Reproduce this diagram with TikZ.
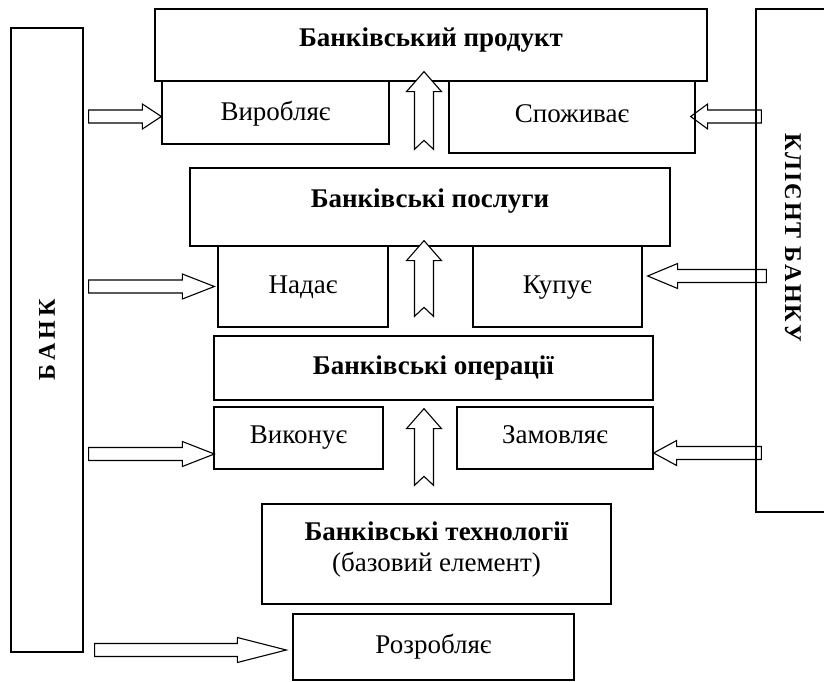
\documentclass[tikz,border=0pt]{standalone}
\usepackage{fontspec}
\setmainfont{Liberation Serif}
\usetikzlibrary{calc}
\tikzset{
  box/.style={draw=black, line width=1.3pt, inner sep=0pt, align=center,
    text height=20pt, text depth=#1, font=\fontsize{27}{31}\selectfont},
  box/.default=6.5pt,
  sidebox/.style={draw=black, line width=1.3pt, inner sep=0pt},
  sidelbl/.style={inner sep=0pt, font=\fontsize{24}{28}\selectfont\bfseries},
  blockarrow/.style={draw=black, line width=1.1pt},
}
% block arrows: tail, tip, head length
\newcommand{\rightblock}[3]{%
  \draw[blockarrow] let \p1=#1, \p2=#2 in
    (\x1,\y2+6.5pt) -- (\x2-#3,\y2+6.5pt) -- (\x2-#3,\y2+12.5pt) -- (\x2,\y2)
    -- (\x2-#3,\y2-12.5pt) -- (\x2-#3,\y2-6.5pt) -- (\x1,\y2-6.5pt) -- cycle;}
\newcommand{\leftblock}[3]{%
  \draw[blockarrow] let \p1=#1, \p2=#2 in
    (\x1,\y2+6.5pt) -- (\x2+#3,\y2+6.5pt) -- (\x2+#3,\y2+12.5pt) -- (\x2,\y2)
    -- (\x2+#3,\y2-12.5pt) -- (\x2+#3,\y2-6.5pt) -- (\x1,\y2-6.5pt) -- cycle;}
\newcommand{\upblock}[2]{%
  \filldraw[blockarrow, fill=white] let \p1=#1, \p2=#2 in
    (\x2,\y2) -- (\x2+17.5pt,\y2-20pt) -- (\x2+9.5pt,\y2-20pt) -- (\x2+9.5pt,\y1)
    -- (\x2,\y1+9pt) -- (\x2-9.5pt,\y1) -- (\x2-9.5pt,\y2-20pt) -- (\x2-17.5pt,\y2-20pt) -- cycle;}
\newcommand{\spaced}{\kern2pt}

\begin{document}
\begin{tikzpicture}[x=1pt, y=-1pt]
\useasboundingbox (0,0) rectangle (824,682);

\node[sidebox, minimum width=72, minimum height=624] (bank) at (47,340) {};
\node[sidelbl, rotate=90] (banklbl) at (bank.center) {Б\,А\,Н\,К};
\node[sidebox, minimum width=74, minimum height=503] (client) at (793,260.5) {};
\node[sidelbl, rotate=-90] (clientlbl) at (793,237.5)
  {К\spaced Л\spaced І\spaced Є\spaced Н\spaced Т\hspace{8pt}Б\spaced А\spaced Н\spaced К\spaced У};

\node[box=16.5pt, minimum width=552, minimum height=72] (prod) at (431,45) {\textbf{Банківський продукт}};
\node[box=3.5pt, minimum width=227, minimum height=63] (vyrob) at (275.5,112.5) {Виробляє};
\node[box=9.5pt, minimum width=246, minimum height=72] (spozh) at (572,117) {Споживає};

\node[box=18.5pt, minimum width=480, minimum height=78] (posl) at (430,207) {\textbf{Банківські послуги}};
\node[box=5.5pt, minimum width=170, minimum height=81] (nadaye) at (303,286.5) {Надає};
\node[box=6.5pt, minimum width=169, minimum height=81] (kupuye) at (557.5,286.5) {Купує};

\node[box, minimum width=439, minimum height=64] (oper) at (433.5,368) {\textbf{Банківські операції}};
\node[box=8.5pt, minimum width=169, minimum height=62] (vykon) at (298.5,438) {Виконує};
\node[box=8.5pt, minimum width=196, minimum height=62] (zamov) at (555,438) {Замовляє};

\node[box=4.6pt, text height=40pt, minimum width=349, minimum height=100] (tech) at (436.5,554)
  {\textbf{Банківські технології}\\(базовий елемент)};
\node[box, minimum width=281, minimum height=66] (rozrob) at (433.5,647) {Розробляє};

\rightblock{($(bank.east|-vyrob.west)+(5,4)$)}{($(vyrob.west)+(0,4)$)}{19pt}
\rightblock{($(bank.east|-nadaye.west)+(5,0)$)}{($(nadaye.west)+(-3,0)$)}{32pt}
\rightblock{($(bank.east|-vykon.west)+(5,16)$)}{($(vykon.west)+(1,16)$)}{32pt}
\rightblock{($(bank.east|-rozrob.west)+(11,3)$)}{($(rozrob.west)+(-6,3)$)}{49pt}

\leftblock{($(client.west|-spozh.east)+(6,-0.5)$)}{($(spozh.east)+(-5,-0.5)$)}{17pt}
\leftblock{($(client.west|-kupuye.east)+(11,-10.5)$)}{($(kupuye.east)+(5,-10.5)$)}{30pt}
\leftblock{($(client.west|-zamov.east)+(6,15)$)}{($(zamov.east)+(0,15)$)}{23pt}

\upblock{($(posl.north)+(-6,-18)$)}{($(prod.south)+(-7,-10)$)}
\upblock{($(oper.north)+(-9.5,-19)$)}{($(posl.south)+(-6,-6)$)}
\upblock{($(tech.north)+(-12.5,-18)$)}{($(oper.south)+(-9.5,8)$)}
\end{tikzpicture}
\end{document}
